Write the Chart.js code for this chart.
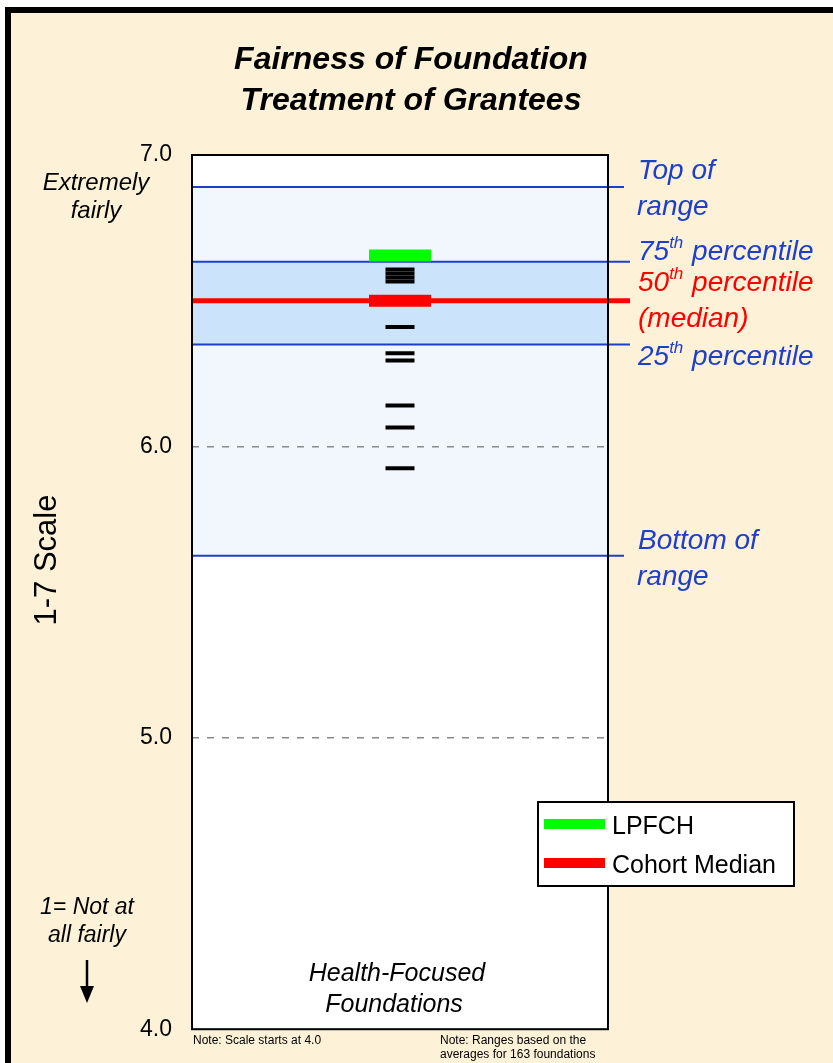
<!DOCTYPE html>
<html>
<head>
<meta charset="utf-8">
<script src="https://cdn.jsdelivr.net/npm/chart.js@4.4.1/dist/chart.umd.min.js"></script>
<style>
html, body { margin: 0; padding: 0; background: #fff; }
canvas { display: block; }
</style>
</head>
<body>
<canvas id="fairChart" width="833" height="1063"></canvas>
<script>
// data
const category = 'Health-Focused Foundations';
const cohortScores = [6.607, 6.593, 6.580, 6.566, 6.41, 6.32, 6.295, 6.14, 6.065, 5.925];
const lpfchScore = [6.655];
const medianScore = [6.50];
const rangeTop = [6.89];
const pct75 = [6.634];
const pct25 = [6.35];
const rangeBottom = [5.625];
const yTicks = [4, 5, 6, 7];

const FONT = '"Liberation Sans", Arial, Helvetica, sans-serif';
const BLUE = '#1f3fc8';
const BLUE_TEXT = '#1d3fcc';
const CREAM = '#fdf2d7';

function xy(values) {
    return values.map(v => ({ x: 0.5, y: v }));
}

function drawSup(ctx, x, y, base, sup, rest, size) {
    ctx.font = 'italic ' + size + 'px ' + FONT;
    ctx.fillText(base, x, y);
    let w = ctx.measureText(base).width;
    ctx.font = 'italic ' + Math.round(size * 0.6) + 'px ' + FONT;
    ctx.fillText(sup, x + w, y - size * 0.3);
    w += ctx.measureText(sup).width;
    ctx.font = 'italic ' + size + 'px ' + FONT;
    ctx.fillText(rest, x + w + 1, y);
}

const decorPlugin = {
    id: 'decor',
    beforeDraw(chart) {
        const ctx = chart.ctx;
        const a = chart.chartArea;
        const y = chart.scales.y;
        ctx.save();
        ctx.fillStyle = '#fff';
        ctx.fillRect(0, 0, chart.width, chart.height);
        ctx.fillStyle = '#000';
        ctx.fillRect(5, 7, chart.width, chart.height);
        ctx.fillStyle = CREAM;
        ctx.fillRect(11, 13, chart.width, chart.height);
        // plot background + bands
        ctx.fillStyle = '#fff';
        ctx.fillRect(a.left, a.top, a.right - a.left, a.bottom - a.top);
        const t = y.getPixelForValue(rangeTop[0]), b = y.getPixelForValue(rangeBottom[0]);
        ctx.fillStyle = '#f2f7fe';
        ctx.fillRect(a.left, t, a.right - a.left, b - t);
        const p75 = y.getPixelForValue(pct75[0]), p25 = y.getPixelForValue(pct25[0]);
        ctx.fillStyle = '#cce4fb';
        ctx.fillRect(a.left, p75, a.right - a.left, p25 - p75);
        ctx.restore();
    },
    beforeDatasetsDraw(chart) {
        const ctx = chart.ctx;
        const a = chart.chartArea;
        const y = chart.scales.y;
        ctx.save();
        const lines = [
            [rangeTop[0], BLUE, 2, a.right + 16],
            [pct75[0], BLUE, 2, a.right + 22],
            [pct25[0], BLUE, 2, a.right + 22],
            [rangeBottom[0], BLUE, 2, a.right + 16],
            [medianScore[0], '#ff0000', 5, a.right + 22]
        ];
        lines.forEach(([v, color, w, end]) => {
            const py = y.getPixelForValue(v);
            ctx.strokeStyle = color;
            ctx.lineWidth = w;
            ctx.beginPath();
            ctx.moveTo(a.left, py);
            ctx.lineTo(end, py);
            ctx.stroke();
        });
        ctx.restore();
    },
    afterDraw(chart) {
        const ctx = chart.ctx;
        const a = chart.chartArea;
        ctx.save();
        // plot frame
        ctx.strokeStyle = '#000';
        ctx.lineWidth = 2;
        ctx.strokeRect(a.left, a.top, a.right - a.left, a.bottom - a.top);

        ctx.textBaseline = 'middle';
        // title
        ctx.fillStyle = '#000';
        ctx.textAlign = 'center';
        ctx.font = 'bold italic 32px ' + FONT;
        ctx.fillText('Fairness of Foundation', 411, 60);
        ctx.fillText('Treatment of Grantees', 411, 101);

        // axis title
        ctx.save();
        ctx.translate(47, 560);
        ctx.rotate(-Math.PI / 2);
        ctx.font = '31px ' + FONT;
        ctx.fillText('1-7 Scale', 0, 0);
        ctx.restore();

        // left notes
        ctx.font = 'italic 24px ' + FONT;
        ctx.fillText('Extremely', 96, 183);
        ctx.fillText('fairly', 96, 211);
        ctx.font = 'italic 23px ' + FONT;
        ctx.fillText('1= Not at', 87, 908);
        ctx.fillText('all fairly', 87, 936);

        // arrow
        ctx.strokeStyle = '#000';
        ctx.lineWidth = 2.5;
        ctx.beginPath();
        ctx.moveTo(87, 960);
        ctx.lineTo(87, 988);
        ctx.stroke();
        ctx.beginPath();
        ctx.moveTo(80, 986);
        ctx.lineTo(94, 986);
        ctx.lineTo(87, 1003);
        ctx.closePath();
        ctx.fill();

        // category label
        const words = category.split(' ');
        ctx.font = 'italic 25px ' + FONT;
        ctx.fillText(words[0], 397, 974);
        ctx.fillText(words[1], 394, 1005);

        // footnotes
        ctx.textAlign = 'left';
        ctx.font = '12px ' + FONT;
        ctx.fillText('Note: Scale starts at 4.0', 193, 1041);
        ctx.fillText('Note: Ranges based on the', 440, 1041);
        ctx.fillText('averages for 163 foundations', 440, 1055);

        // right labels
        const lx = 638;
        ctx.fillStyle = BLUE_TEXT;
        ctx.font = 'italic 28px ' + FONT;
        ctx.fillText('Top of', lx, 171);
        ctx.fillText('range', lx - 1, 207);
        drawSup(ctx, lx, 252, '75', 'th', ' percentile', 28);
        drawSup(ctx, lx, 357, '25', 'th', ' percentile', 28);
        ctx.font = 'italic 28px ' + FONT;
        ctx.fillText('Bottom of', lx, 541);
        ctx.fillText('range', lx - 1, 577);
        ctx.fillStyle = '#ff0000';
        drawSup(ctx, lx, 283, '50', 'th', ' percentile', 28);
        ctx.font = 'italic 28px ' + FONT;
        ctx.fillText('(median)', lx, 319);

        // legend
        ctx.fillStyle = '#fff';
        ctx.fillRect(538, 802, 256, 84);
        ctx.strokeStyle = '#000';
        ctx.lineWidth = 2;
        ctx.strokeRect(538, 802, 256, 84);
        const legendItems = chart.data.datasets.filter(d => d.legend);
        legendItems.forEach((d, i) => {
            const ly = 824 + i * 39;
            ctx.fillStyle = d.borderColor;
            ctx.fillRect(544, ly - 5, 61, 10);
            ctx.fillStyle = '#000';
            ctx.font = '25px ' + FONT;
            ctx.fillText(d.label, 612, ly + 3);
        });
        ctx.restore();
    }
};

new Chart(document.getElementById('fairChart'), {
    type: 'scatter',
    data: {
        datasets: [
            {
                label: 'LPFCH',
                legend: true,
                data: xy(lpfchScore),
                pointStyle: 'line',
                radius: 31,
                borderWidth: 12,
                borderColor: '#00ff00',
                backgroundColor: '#00ff00'
            },
            {
                label: 'Cohort Median',
                legend: true,
                data: xy(medianScore),
                pointStyle: 'line',
                radius: 31,
                borderWidth: 12,
                borderColor: '#ff0000',
                backgroundColor: '#ff0000'
            },
            {
                label: category,
                data: xy(cohortScores),
                pointStyle: 'line',
                radius: 14.5,
                borderWidth: 4,
                borderColor: '#000',
                backgroundColor: '#000'
            }
        ]
    },
    options: {
        responsive: false,
        animation: false,
        events: [],
        layout: { autoPadding: false, padding: { left: 0, top: 155, right: 225, bottom: 31 } },
        plugins: { legend: { display: false }, tooltip: { enabled: false }, title: { display: false } },
        scales: {
            x: { type: 'linear', min: 0, max: 1, display: false },
            y: {
                type: 'linear',
                min: 4,
                max: 7,
                afterFit: s => { s.width = 192; },
                afterBuildTicks: s => { s.ticks = yTicks.map(v => ({ value: v })); },
                ticks: {
                    color: '#000',
                    padding: 20,
                    font: { family: FONT, size: 23 },
                    callback: v => Number(v).toFixed(1)
                },
                grid: {
                    drawTicks: false,
                    tickLength: 0,
                    lineWidth: 1.5,
                    color: c => (c.tick && (c.tick.value === 5 || c.tick.value === 6)) ? '#8a8a8a' : 'rgba(0,0,0,0)'
                },
                border: { display: false, dash: [7, 8] }
            }
        }
    },
    plugins: [decorPlugin]
});
</script>
</body>
</html>
